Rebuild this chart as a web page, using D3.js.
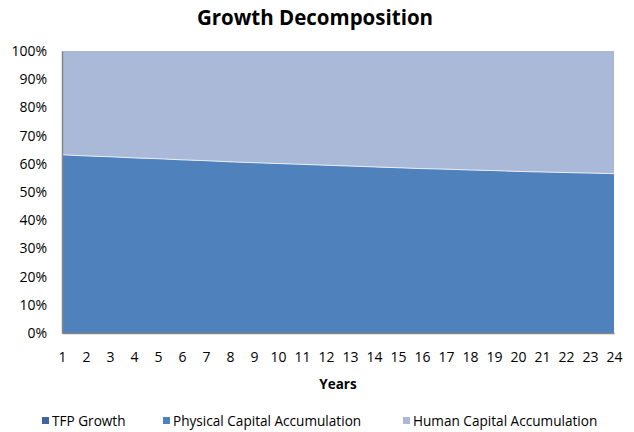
<!DOCTYPE html>
<html>
<head>
<meta charset="utf-8">
<script src="https://cdn.jsdelivr.net/npm/d3@7"></script>
<style>
  body { margin: 0; background: #fff; }
  svg { display: block; font-family: "Open Sans", Lato, sans-serif; }
</style>
</head>
<body>
<svg width="634" height="432"></svg>
<script>
var years = d3.range(1, 25);
var seriesNames = ["TFP Growth", "Physical Capital Accumulation", "Human Capital Accumulation"];
var seriesColors = ["#3f64a0", "#4f81bd", "#aab9d7"];

var tfp = [0, 0, 0, 0, 0, 0, 0, 0, 0, 0, 0, 0, 0, 0, 0, 0, 0, 0, 0, 0, 0, 0, 0, 0];
var physical = [0.632, 0.628, 0.625, 0.621, 0.618, 0.614, 0.611, 0.607, 0.604, 0.601, 0.598, 0.595,
                0.592, 0.589, 0.586, 0.583, 0.581, 0.578, 0.576, 0.573, 0.571, 0.569, 0.567, 0.565];
var human = [0.368, 0.372, 0.375, 0.379, 0.382, 0.386, 0.389, 0.393, 0.396, 0.399, 0.402, 0.405,
             0.408, 0.411, 0.414, 0.417, 0.419, 0.422, 0.424, 0.427, 0.429, 0.431, 0.433, 0.435];
var yTicks = [0, 0.1, 0.2, 0.3, 0.4, 0.5, 0.6, 0.7, 0.8, 0.9, 1];

var svg = d3.select("svg");
var margin = {left: 62, right: 20, top: 51, bottom: 99};
var width = 634 - margin.left - margin.right;
var height = 432 - margin.top - margin.bottom;

var rows = years.map(function(y, i) {
  return {year: y, s0: tfp[i], s1: physical[i], s2: human[i]};
});

var stack = d3.stack()
  .keys(["s0", "s1", "s2"])
  .offset(d3.stackOffsetExpand);
var layers = stack(rows);

var x = d3.scaleLinear().domain([1, 24]).range([0, width]);
var y = d3.scaleLinear().domain([0, 1]).range([height, 0]);

var g = svg.append("g").attr("transform", "translate(" + margin.left + "," + margin.top + ")");

var area = d3.area()
  .x(function(d) { return x(d.data.year); })
  .y0(function(d) { return y(d[0]); })
  .y1(function(d) { return y(d[1]); });

g.selectAll("path.layer")
  .data(layers)
  .enter().append("path")
  .attr("class", "layer")
  .attr("fill", function(d, i) { return seriesColors[i]; })
  .attr("d", area);

// light seam between the two visible areas
var seam = d3.line()
  .x(function(d) { return x(d.data.year); })
  .y(function(d) { return y(d[1]); });
g.append("path")
  .datum(layers[1])
  .attr("fill", "none")
  .attr("stroke", "#e8edf5")
  .attr("stroke-width", 1)
  .attr("d", seam);

// axes
var yAxis = d3.axisLeft(y).tickValues(yTicks).tickSize(0).tickPadding(15)
  .tickFormat(d3.format(".0%"));
var yg = g.append("g").call(yAxis);
yg.select(".domain").attr("stroke", "#868686").attr("stroke-width", 1.5);
yg.selectAll("text").attr("font-size", 14).attr("fill", "#000").attr("font-family", "Open Sans");

var xAxis = d3.axisBottom(x).tickValues(years).tickSize(0).tickPadding(19)
  .tickFormat(d3.format("d"));
var xg = g.append("g").attr("transform", "translate(0," + height + ")").call(xAxis);
xg.select(".domain").attr("stroke", "#868686").attr("stroke-width", 1.5);
xg.selectAll("text").attr("font-size", 14).attr("fill", "#000").attr("font-family", "Open Sans");

// title + axis title
svg.append("text")
  .attr("x", 315).attr("y", 25)
  .attr("text-anchor", "middle")
  .attr("font-size", 20.5).attr("font-weight", "bold")
  .text("Growth Decomposition");

svg.append("text")
  .attr("x", margin.left + width / 2).attr("y", 389)
  .attr("text-anchor", "middle")
  .attr("font-size", 13.5).attr("font-weight", "bold")
  .text("Years");

// legend
var legendX = [42, 163, 403];
var legend = svg.selectAll("g.legend")
  .data(seriesNames)
  .enter().append("g")
  .attr("class", "legend")
  .attr("transform", function(d, i) { return "translate(" + legendX[i] + ",421)"; });
legend.append("rect")
  .attr("x", 0).attr("y", -4).attr("width", 7).attr("height", 7)
  .attr("fill", function(d, i) { return seriesColors[i]; });
legend.append("text")
  .attr("x", 10).attr("y", 5)
  .attr("font-size", 13.6)
  .text(function(d) { return d; });
</script>
</body>
</html>
